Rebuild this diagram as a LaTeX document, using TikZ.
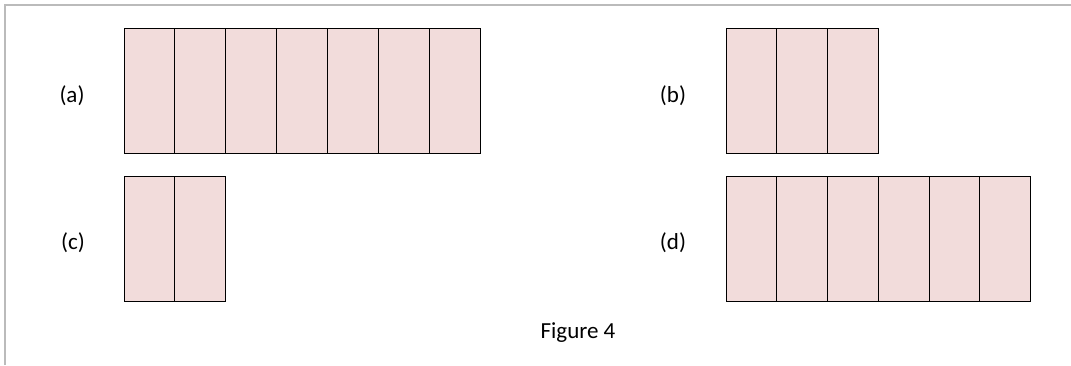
\documentclass[tikz,border=0pt]{standalone}
\usepackage{fontspec}
\setmainfont{Carlito}
\definecolor{cellfill}{HTML}{F2DCDB}
\definecolor{framegray}{HTML}{BBBBBB}
\begin{document}
\begin{tikzpicture}[x=1pt,y=1pt,
  cell/.style={draw=black, fill=cellfill, line width=0.9pt, minimum width=50.9pt, minimum height=125pt, inner sep=0pt, outer sep=0pt, anchor=north west},
  lbl/.style={font=\fontsize{23}{27}\selectfont, inner sep=0pt}]
\useasboundingbox (0,0) rectangle (1071,365);
% frame
\draw[framegray, line width=1.3pt] (5,0) -- (5,360) -- (1071,360);
% (a)
\foreach \i in {0,...,6} { \node[cell] (a\i) at (124+50.9*\i, 337) {}; }
% (b)
\foreach \i in {0,...,2} { \node[cell] (b\i) at (726+50.9*\i, 337) {}; }
% (c)
\foreach \i in {0,...,1} { \node[cell] (c\i) at (124+50.9*\i, 189) {}; }
% (d)
\foreach \i in {0,...,5} { \node[cell] (d\i) at (726+50.75*\i, 189) {}; }
\node[lbl] (la) at (72,269) {(a)};
\node[lbl] (lb) at (673,269) {(b)};
\node[lbl] (lc) at (73,122) {(c)};
\node[lbl] (ld) at (673,122) {(d)};
\node[lbl] (fig) at (578,32) {Figure 4};
\end{tikzpicture}
\end{document}
